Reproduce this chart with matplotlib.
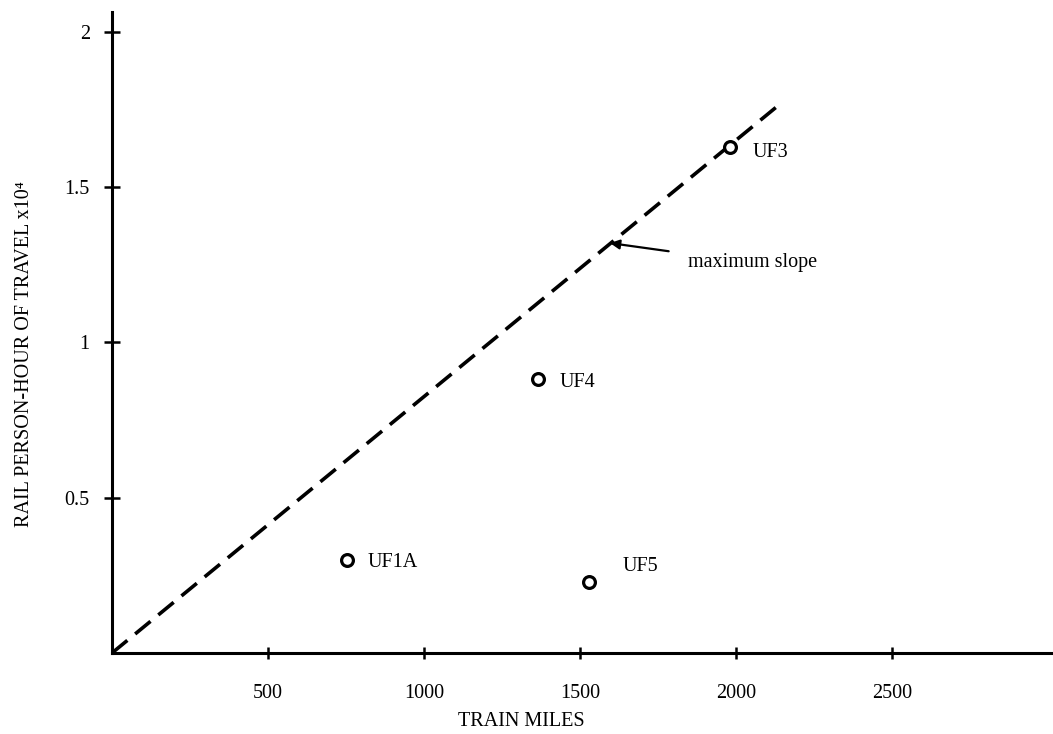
import matplotlib

matplotlib.use("Agg")
import matplotlib.pyplot as plt

# scenario points (train miles, rail person-hours x10^4)
NAMES = ["UF3", "UF4", "UF1A", "UF5"]
TRAIN_MILES = [1981, 1365, 753, 1529]
PERSON_HOURS = [1.63, 0.882, 0.30, 0.229]
LABEL_X = [2054, 1436, 820, 1635]
LABEL_Y = [1.61, 0.87, 0.29, 0.277]

# maximum slope line
SLOPE_X = [0, 2150]
SLOPE_Y = [0, 1.775]
ARROW_TIP = (1596, 1.32)
ARROW_TEXT = (1846, 1.256)

X_TICKS = [500, 1000, 1500, 2000, 2500]
Y_TICKS = [0.5, 1, 1.5, 2]
Y_TICK_LABELS = ["0.5", "1", "1.5", "2"]

FONT = ["Liberation Serif", "DejaVu Serif"]
FS = 14.5


def main() -> None:
    plt.rcParams.update(
        {
            "font.family": FONT,
            "font.size": FS,
        }
    )
    fig = plt.figure(figsize=(10.53, 7.34), dpi=100)
    ax = fig.add_axes([112 / 1053, 81 / 734, (1053 - 112) / 1053, 641 / 734])

    ax.plot(SLOPE_X, SLOPE_Y, color="black", lw=2.6, ls=(0, (5.5, 2.8)), solid_capstyle="butt")
    ax.plot(
        TRAIN_MILES,
        PERSON_HOURS,
        ls="none",
        marker="o",
        ms=8.5,
        mfc="white",
        mec="black",
        mew=2.3,
        zorder=3,
    )
    for name, lx, ly in zip(NAMES, LABEL_X, LABEL_Y):
        ax.text(lx, ly, name, ha="left", va="center", fontsize=FS)

    ax.annotate(
        "maximum slope",
        xy=ARROW_TIP,
        xytext=ARROW_TEXT,
        ha="left",
        va="center",
        fontsize=FS,
        arrowprops=dict(arrowstyle="-|>", color="black", lw=1.6, mutation_scale=14, shrinkA=12, shrinkB=0),
    )

    ax.set_xlim(0, 3016)
    ax.set_ylim(0, 2.064)
    ax.set_xticks(X_TICKS)
    ax.set_yticks(Y_TICKS)
    ax.set_yticklabels(Y_TICK_LABELS)
    for side in ("top", "right"):
        ax.spines[side].set_visible(False)
    for side in ("left", "bottom"):
        ax.spines[side].set_linewidth(2.2)
    ax.tick_params(axis="x", direction="inout", length=9, width=1.8, pad=18, labelsize=FS)
    ax.tick_params(axis="y", direction="inout", length=12, width=1.8, pad=10, labelsize=FS)

    fig.text(521 / 1053, 1 - 721 / 734, "TRAIN MILES", ha="center", va="center", fontsize=FS)
    fig.text(
        25 / 1053,
        1 - 354 / 734,
        "RAIL PERSON-HOUR OF TRAVEL x10\u2074",
        ha="center",
        va="center",
        rotation=90,
        fontsize=FS,
    )

    fig.savefig("out.png", dpi=100, facecolor="white")
    plt.close(fig)


if __name__ == "__main__":
    main()
